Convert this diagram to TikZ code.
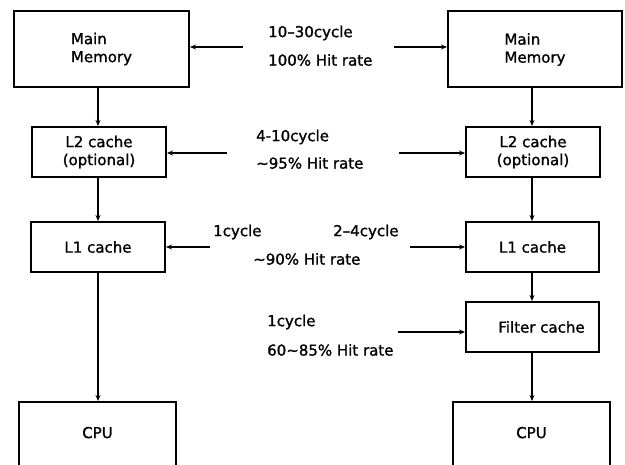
\documentclass[tikz,border=0pt]{standalone}
\usepackage{fontspec}
\setmainfont[FakeBold=1.2]{DejaVu Sans}
\usetikzlibrary{arrows.meta}
\begin{document}
\begin{tikzpicture}[x=1pt,y=-1pt,
  box/.style={draw,line width=2pt,rectangle,inner sep=2pt,
    font=\fontsize{15}{18}\selectfont},
  arr/.style={line width=1.5pt,-{Stealth[length=6pt,width=5pt]}},
  lbl/.style={anchor=west,inner sep=0pt,font=\fontsize{15}{18}\selectfont}]
\clip (0,0) rectangle (625,465);
\fill[white] (0,0) rectangle (625,465);

% left hierarchy
\node[box,minimum width=175,minimum height=76,align=left] (mmL) at (101.5,49) {Main\\Memory};
\node[box,minimum width=134,minimum height=50,align=center] (l2L) at (99,152) {L2 cache\\(optional)};
\node[box,minimum width=134,minimum height=50] (l1L) at (98,247) {L1 cache};
\node[box,minimum width=157,minimum height=70,text depth=9pt] (cpuL) at (97.5,437) {CPU};

% right hierarchy with filter cache
\node[box,minimum width=174,minimum height=76,align=left] (mmR) at (535,49.5) {Main\\Memory};
\node[box,minimum width=134,minimum height=50,align=center] (l2R) at (533,152) {L2 cache\\(optional)};
\node[box,minimum width=133,minimum height=50] (l1R) at (532.5,247) {L1 cache};
\node[box,minimum width=133,minimum height=50] (fcR) at (532.5,327) {\hspace*{18pt}Filter cache};
\node[box,minimum width=157,minimum height=70,text depth=9pt] (cpuR) at (531.5,437) {CPU};

% vertical data paths
\draw[arr] (98,87) coordinate (vL1) -- (vL1 |- l2L.north);
\draw[arr] (l2L.south -| vL1) -- (vL1 |- l1L.north);
\draw[arr] (l1L.south -| vL1) -- (vL1 |- cpuL.north);
\draw[arr] (532,87) coordinate (vR1) -- (vR1 |- l2R.north);
\draw[arr] (l2R.south -| vR1) -- (vR1 |- l1R.north);
\draw[arr] (l1R.south -| vR1) -- (vR1 |- fcR.north);
\draw[arr] (fcR.south -| vR1) -- (vR1 |- cpuR.north);

% horizontal access arrows
\coordinate (aL1) at (243,47);
\coordinate (aL2) at (227,153);
\coordinate (aL3) at (210,247);
\coordinate (aR1) at (394,47);
\coordinate (aR2) at (399,153);
\coordinate (aR3) at (410,247);
\coordinate (aR4) at (398,332);
\draw[arr] (aL1) -- (aL1 -| mmL.east);
\draw[arr] (aL2) -- (aL2 -| l2L.east);
\draw[arr] (aL3) -- (aL3 -| l1L.east);
\draw[arr] (aR1) -- (aR1 -| mmR.west);
\draw[arr] (aR2) -- (aR2 -| l2R.west);
\draw[arr] (aR3) -- (aR3 -| l1R.west);
\draw[arr] (aR4) -- (aR4 -| fcR.west);

% latency and hit-rate labels
\node[lbl] (t1) at (268,33) {10–30cycle};
\node[lbl] (t2) at (268,60) {100\% Hit rate};
\node[lbl] (t3) at (256,137) {4-10cycle};
\node[lbl] (t4) at (256,163) {\textasciitilde95\% Hit rate};
\node[lbl] (t5) at (213,232) {1cycle};
\node[lbl] (t6) at (333,232) {2–4cycle};
\node[lbl] (t7) at (253,259) {\textasciitilde90\% Hit rate};
\node[lbl] (t8) at (267,322) {1cycle};
\node[lbl] (t9) at (267,350) {60\textasciitilde85\% Hit rate};
\end{tikzpicture}
\end{document}
